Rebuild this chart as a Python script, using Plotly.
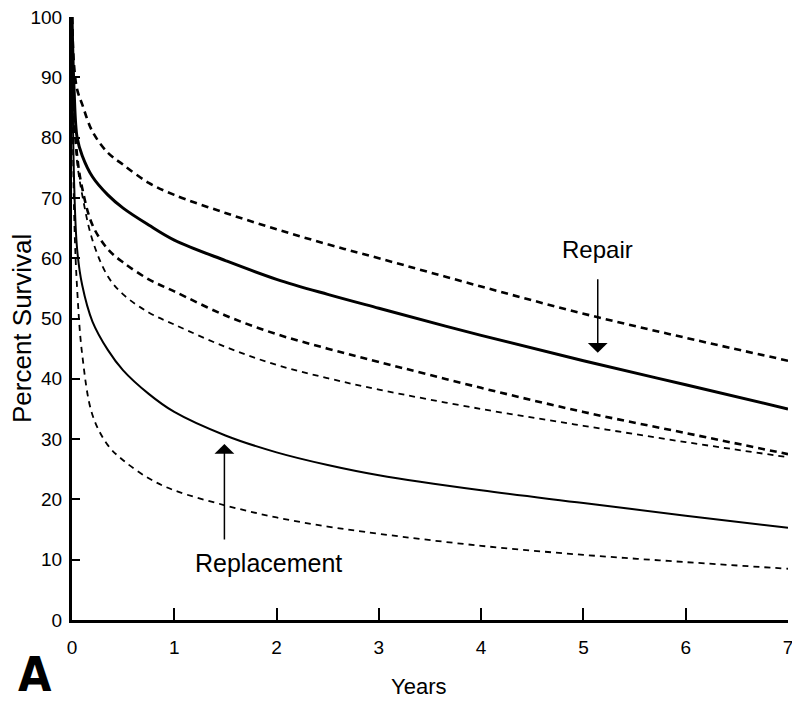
import plotly.graph_objects as go

# Survival curves: years after operation vs percent surviving
years = [0, 0.02, 0.05, 0.1, 0.2, 0.35, 0.5, 0.75, 1, 1.5, 2, 2.5, 3, 4, 5, 6, 7]

repair_upper = [100, 92, 88, 85.5, 81, 77.5, 75.5, 72.5, 70.5, 67.5, 64.8, 62.3, 60, 55.3, 50.8, 46.8, 43]
repair_mid = [100, 88, 80, 77, 73.5, 70.5, 68.3, 65.5, 63, 59.6, 56.5, 54, 51.7, 47.2, 43, 39, 35]
repair_lower = [100, 86, 77, 71.6, 65.5, 61.5, 59.3, 56.5, 54.5, 50.5, 47.4, 45, 42.8, 38.5, 34.5, 31, 27.5]
replace_upper = [100, 84, 76, 70.5, 63, 57, 54, 51, 49, 45.3, 42.3, 40.1, 38.2, 35, 32.2, 29.5, 27]
replace_mid = [100, 73, 61.5, 55.5, 49.5, 44.8, 41.4, 37.5, 34.5, 30.6, 27.8, 25.7, 24, 21.5, 19.4, 17.3, 15.3]
replace_lower = [100, 68, 55, 44, 34, 29, 26.5, 23.5, 21.5, 19, 17, 15.5, 14.3, 12.3, 10.8, 9.6, 8.5]

x_ticks = [0, 1, 2, 3, 4, 5, 6, 7]
y_ticks = [0, 10, 20, 30, 40, 50, 60, 70, 80, 90, 100]

series = [
    (repair_upper, 2.6, "7px,5px"),
    (repair_mid, 3.0, "solid"),
    (repair_lower, 2.6, "7px,5px"),
    (replace_upper, 1.8, "6px,5px"),
    (replace_mid, 2.0, "solid"),
    (replace_lower, 1.8, "6px,5px"),
]

fig = go.Figure()
for ys, w, dash in series:
    fig.add_trace(go.Scatter(
        x=years, y=ys, mode="lines",
        line=dict(color="black", width=w, dash=dash, shape="spline", smoothing=1.0),
        showlegend=False, hoverinfo="skip",
    ))

tick_font = dict(family="Liberation Sans, Arial", size=19, color="black")

fig.update_layout(
    width=792, height=701,
    margin=dict(l=72, r=4, t=17, b=81),
    paper_bgcolor="white", plot_bgcolor="white",
    xaxis=dict(
        range=[0, 7], tickvals=x_ticks, ticks="inside", ticklen=12, tickwidth=2,
        tickcolor="black", showline=True, linecolor="black", linewidth=3,
        showgrid=False, zeroline=False, tickfont=tick_font, ticklabelstandoff=8,
        ticklabeloverflow="allow", automargin=False,
    ),
    yaxis=dict(
        range=[0, 100], tickvals=y_ticks, ticks="inside", ticklen=8, tickwidth=2,
        tickcolor="black", showline=True, linecolor="black", linewidth=3,
        showgrid=False, zeroline=False, tickfont=tick_font, ticklabelstandoff=3,
        automargin=False,
    ),
)

# Axis titles
fig.add_annotation(xref="paper", yref="paper", x=0.4846, y=-0.1095, text="Years",
                   showarrow=False, xanchor="center", yanchor="middle",
                   font=dict(family="Liberation Sans, Arial", size=22, color="black"))
fig.add_annotation(xref="paper", yref="paper", x=-0.0698, y=0.4826, text="Percent Survival",
                   textangle=-90, showarrow=False, xanchor="center", yanchor="middle",
                   font=dict(family="Liberation Sans, Arial", size=26, color="black"))

# Labelled arrows pointing at the two solid curves
fig.add_annotation(x=5.14, y=44.3, text="", showarrow=True, ax=0, ay=-75,
                   arrowhead=1, arrowsize=2.2, arrowwidth=1.5, arrowcolor="black")
fig.add_annotation(x=5.14, y=61.4, text="Repair", showarrow=False,
                   font=dict(family="Liberation Sans, Arial", size=24, color="black"))
fig.add_annotation(x=1.49, y=29.2, text="", showarrow=True, ax=0, ay=97,
                   arrowhead=1, arrowsize=2.2, arrowwidth=1.5, arrowcolor="black")
fig.add_annotation(x=1.92, y=9.45, text="Replacement", showarrow=False,
                   font=dict(family="Liberation Sans, Arial", size=25, color="black"))

# Panel letter
fig.add_annotation(xref="paper", yref="paper", x=-0.0517, y=-0.0896, text="<b>A</b>",
                   showarrow=False, xanchor="center", yanchor="middle",
                   font=dict(family="DejaVu Sans Condensed, Liberation Sans, Arial", size=48, color="black"))

fig.write_html("out.html")
